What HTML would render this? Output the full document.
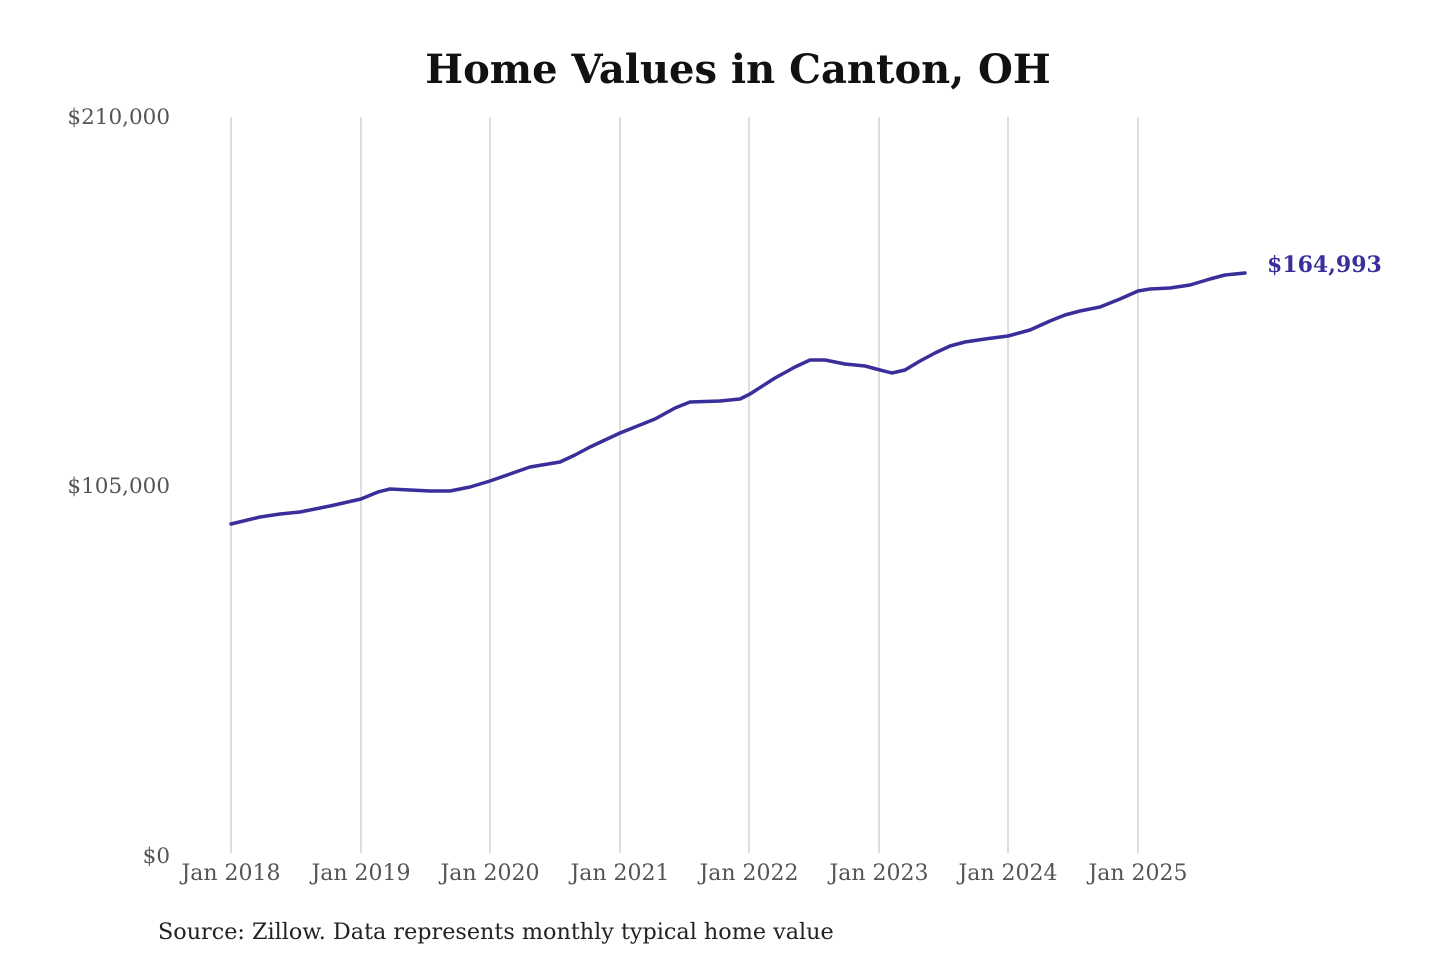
<!DOCTYPE html>
<html><head><meta charset="utf-8"><style>
html,body{margin:0;padding:0;background:#fff;}
svg{display:block;font-family:"DejaVu Serif","Liberation Serif",serif;}
</style></head><body>
<svg width="1440" height="960" viewBox="0 0 1440 960" xmlns="http://www.w3.org/2000/svg">
<rect width="1440" height="960" fill="#fff"/>
<text x="738" y="83" text-anchor="middle" font-size="40" font-weight="bold" fill="#111">Home Values in Canton, OH</text>
<g stroke="#c8c8c8" stroke-width="1.2">
<line x1="231" y1="117" x2="231" y2="853"/>
<line x1="361" y1="117" x2="361" y2="853"/>
<line x1="490" y1="117" x2="490" y2="853"/>
<line x1="620" y1="117" x2="620" y2="853"/>
<line x1="749" y1="117" x2="749" y2="853"/>
<line x1="879" y1="117" x2="879" y2="853"/>
<line x1="1008" y1="117" x2="1008" y2="853"/>
<line x1="1138" y1="117" x2="1138" y2="853"/>
</g>
<g font-size="21.5" fill="#555" text-anchor="end">
<text x="170" y="124">$210,000</text>
<text x="170" y="493">$105,000</text>
<text x="170" y="863">$0</text>
</g>
<g font-size="22" fill="#555" text-anchor="middle">
<text x="231" y="880">Jan 2018</text>
<text x="361" y="880">Jan 2019</text>
<text x="490" y="880">Jan 2020</text>
<text x="620" y="880">Jan 2021</text>
<text x="749" y="880">Jan 2022</text>
<text x="879" y="880">Jan 2023</text>
<text x="1008" y="880">Jan 2024</text>
<text x="1138" y="880">Jan 2025</text>
</g>
<polyline fill="none" stroke="#3a2f9a" stroke-width="3.5" stroke-linejoin="round" stroke-linecap="round"
points="231,524 260,517 280,514 300,512 330,506 361,499 378,492 390,489 410,490 430,491 450,491 470,487 490,481 510,474 530,467 560,462 575,455 590,447 620,433 655,419 675,408 690,402 720,401 740,399 750,394 775,378 795,367 810,360 825,360 845,364 865,366 880,370 892,373 905,370 920,361 935,353 950,346 965,342 985,339 1008,336 1030,330 1050,321 1065,315 1080,311 1100,307 1120,299 1138,291 1150,289 1170,288 1190,285 1210,279 1225,275 1245,273"/>
<text x="1267" y="272" font-size="22" font-weight="bold" fill="#3a2f9a">$164,993</text>
<text x="158" y="939" font-size="22.3" fill="#222">Source: Zillow. Data represents monthly typical home value</text>
</svg>
</body></html>
